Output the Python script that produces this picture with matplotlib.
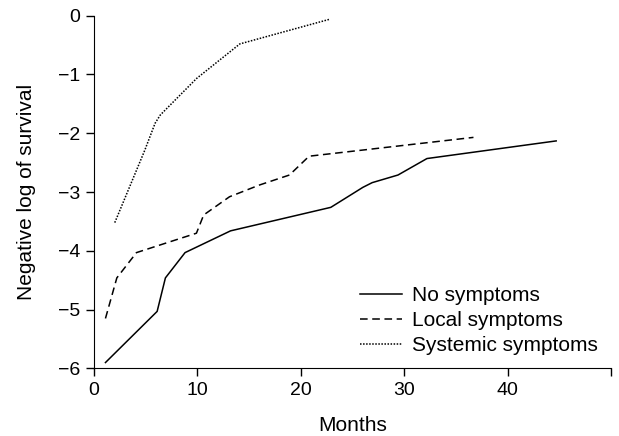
import matplotlib
matplotlib.use('Agg')
import matplotlib.pyplot as plt

plt.rcParams['font.family'] = ['Liberation Sans', 'DejaVu Sans']

# No symptoms
no_x = [1.1, 6.1, 6.9, 8.8, 13.2, 22.9, 26.0, 26.9, 29.4, 32.2, 44.7]
no_y = [-5.90, -5.03, -4.46, -4.03, -3.66, -3.26, -2.92, -2.84, -2.71, -2.43, -2.13]

# Local symptoms
loc_x = [1.1, 2.2, 4.1, 9.9, 10.6, 13.1, 16.0, 18.9, 20.8, 36.7]
loc_y = [-5.15, -4.46, -4.03, -3.70, -3.39, -3.08, -2.88, -2.71, -2.39, -2.07]

# Systemic symptoms
sys_x = [2.0, 4.9, 5.9, 6.4, 9.9, 14.1, 22.8]
sys_y = [-3.52, -2.29, -1.83, -1.69, -1.07, -0.48, -0.06]

fig = plt.figure(figsize=(6.19, 4.36), dpi=100)
ax = fig.add_axes([0.152, 0.155, 0.835, 0.809])

ax.plot(no_x, no_y, color='black', lw=1.1, label='No symptoms')
ax.plot(loc_x, loc_y, color='black', lw=1.1, dashes=(5, 3), label='Local symptoms')
ax.plot(sys_x, sys_y, color='black', lw=1.1, dashes=(1, 1), label='Systemic symptoms')

ax.set_xlim(0, 50)
ax.set_ylim(-6, 0)
ax.set_xticks([0, 10, 20, 30, 40, 50])
ax.set_xticklabels(['0', '10', '20', '30', '40', ''])
ax.set_yticks([0, -1, -2, -3, -4, -5, -6])
ax.set_yticklabels(['0', '\u22121', '\u22122', '\u22123', '\u22124', '\u22125', '\u22126'])
ax.spines['top'].set_visible(False)
ax.spines['right'].set_visible(False)
ax.tick_params(direction='out', length=6, width=1, labelsize=14, pad=4)
ax.set_xlabel('Months', fontsize=15, labelpad=12)
ax.set_ylabel('Negative log of survival', fontsize=15, labelpad=16)

ax.legend(loc='upper left', frameon=False, fontsize=15, handlelength=2.0,
          handletextpad=0.5, labelspacing=0.29, borderpad=0, borderaxespad=0,
          bbox_to_anchor=(360 / 619, 1 - 286 / 436), bbox_transform=fig.transFigure)

fig.savefig('out.png', dpi=100)
